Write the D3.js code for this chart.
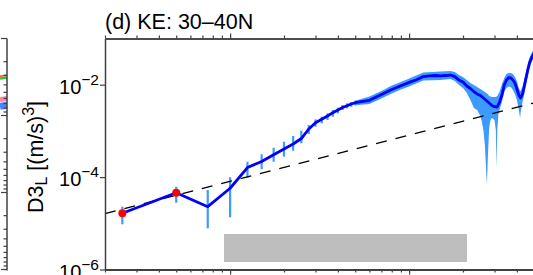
<!DOCTYPE html>
<html><head><meta charset="utf-8">
<script src="https://cdn.jsdelivr.net/npm/d3@7"></script>
<style>
body{margin:0;background:#fff}
svg{display:block}
text{font-family:"Liberation Sans",Arial,Helvetica,sans-serif;fill:#000}
</style>
</head><body>
<svg id="c" width="533" height="275"></svg>
<script>
// ---------- data ----------
const titleText = "(d) KE: 30\u201340N";
// separation distance r (km), short range (individual error bars)
const rNear = [2.5,5,7.5,10,12.5,15,17.5,20,22.5,25,27.5,30,32.5,35,37.5,40,42.5,45,47.5,50];
const d3Near = [1.65e-5,4.59e-5,2.29e-5,5.73e-5,1.61e-4,2.18e-4,3.05e-4,4.06e-4,5.20e-4,6.84e-4,
                1.10e-3,1.50e-3,1.78e-3,2.10e-3,2.48e-3,2.83e-3,3.21e-3,3.51e-3,3.82e-3,4.07e-3];
const errHiNear = [2.29e-5,6.19e-5,5.26e-5,9.9e-5,2.15e-4,3.12e-4,4.33e-4,5.83e-4,7.76e-4,1.01e-3,
                   1.34e-3,1.78e-3,2.03e-3,2.40e-3,2.83e-3,3.18e-3,3.64e-3,3.95e-3,4.23e-3,4.51e-3];
const errLoNear = [9.5e-6,2.79e-5,7.8e-6,1.35e-5,9.7e-5,1.48e-4,2.15e-4,2.77e-4,3.72e-4,5.40e-4,
                   8.57e-4,1.23e-3,1.46e-3,1.72e-3,2.03e-3,2.40e-3,2.83e-3,3.08e-3,3.34e-3,3.58e-3];
// points marked in red
const rRed = [2.5,5];
// long range line
const rFar = [60,70,80,90,100,110,120,130,140,150,160,170,180,190,200,210,220,230,240,250,260,270,280,
              290,300,310,320,330,340,350,360,370,380,390,400,410,420,430,440,450,460,470,480,490,500];
const d3Far = [4.59e-3,6.14e-3,7.87e-3,9.51e-3,1.12e-2,1.28e-2,1.50e-2,1.56e-2,1.58e-2,1.56e-2,1.58e-2,1.62e-2,
               1.50e-2,1.26e-2,1.14e-2,9.38e-3,8.27e-3,7.12e-3,6.29e-3,5.84e-3,5.15e-3,4.55e-3,4.02e-3,
               3.55e-3,3.34e-3,3.29e-3,4.22e-3,5.99e-3,9.86e-3,1.26e-2,1.43e-2,1.40e-2,1.26e-2,1.09e-2,
               8.07e-3,5.99e-3,5.15e-3,6.29e-3,9.38e-3,1.40e-2,2.08e-2,2.90e-2,3.60e-2,4.18e-2,4.85e-2];
// long range error envelope
const rBand = [50,60,70,80,90,100,120,150,170,180,190,200,210,220,230,240,250,255,260,265,270,272,275,280,
               285,290,300,305,308,311,315,320,330,340,350,360,370,380,390,400,410,417,420,430,440,450,460,470,480,490,500];
const bandHi = [4.51e-3,5.55e-3,7.31e-3,9.61e-3,1.14e-2,1.36e-2,1.84e-2,1.93e-2,1.98e-2,1.89e-2,1.62e-2,1.47e-2,
                1.26e-2,1.09e-2,9.86e-3,8.91e-3,8.07e-3,7.67e-3,7.31e-3,6.95e-3,6.61e-3,6.46e-3,6.29e-3,5.69e-3,
                5.55e-3,5.42e-3,5.42e-3,5.42e-3,5.55e-3,5.69e-3,6.29e-3,6.95e-3,1.04e-2,1.40e-2,1.71e-2,1.79e-2,
                1.79e-2,1.71e-2,1.47e-2,1.20e-2,8.49e-3,7.31e-3,7.31e-3,8.91e-3,1.33e-2,1.89e-2,2.81e-2,3.79e-2,
                4.62e-2,5.36e-2,6.22e-2];
const bandLo = [3.58e-3,3.82e-3,5.03e-3,6.46e-3,7.87e-3,9.14e-3,1.23e-2,1.26e-2,1.33e-2,1.20e-2,9.86e-3,8.49e-3,
                6.61e-3,4.67e-3,3.13e-3,2.83e-3,2.10e-3,1.56e-3,1.05e-3,4.96e-4,1.11e-4,6.74e-5,2.34e-4,1.16e-3,
                1.72e-3,1.90e-3,1.72e-3,1.05e-3,1.57e-4,1.05e-3,2.21e-3,2.83e-3,4.22e-3,6.95e-3,8.49e-3,9.14e-3,
                8.91e-3,7.67e-3,6.29e-3,4.67e-3,2.83e-3,1.90e-3,2.56e-3,4.22e-3,6.29e-3,9.86e-3,1.54e-2,2.19e-2,
                2.95e-2,3.43e-2,3.98e-2];
// reference slope line  D3 = c * r
const refR = [2, 1000];
const refD3 = [1.62e-5, 8.1e-3];
// axis ticks
const yTickVals = [1e-2, 1e-4, 1e-6];
const yTickExp = ["\u22122", "\u22124", "\u22126"];
const xMajor = [10, 100, 1000];
const xMinor = [2,3,4,5,6,7,8,9,20,30,40,50,60,70,80,90,200,300,400,500,600,700,800,900];
// neighbouring panel (c) remnants at right edge
const prevSeries = [
  {color:"#00c800", v:0.33, w:2.5},
  {color:"#ff2020", v:0.31, w:1.5},
  {color:"#ff7090", v:0.62, w:5},
  {color:"#3070ff", v:0.76, w:7}
];

// ---------- layout ----------
const svg = d3.select("#c");
const L = 105, T = 38.5, B = 269.5;
const x = d3.scaleLog().domain([2, 1000]).range([L, L + 179 * Math.log10(500)]);
const y = d3.scaleLog().domain([1e-6, 1e-1]).range([B, T]);
const axisColor = "#404040";

// previous panel remnant
const yPrev = d3.scaleLog().domain([0.1, 100]).range([T, B]);
const prevX = 7;
const gp = svg.append("g");
prevSeries.forEach(s => {
  gp.append("line").attr("x1", 0).attr("x2", prevX).attr("y1", yPrev(s.v)).attr("y2", yPrev(s.v) - 1)
    .attr("stroke", s.color).attr("stroke-width", s.w).attr("opacity", 0.85);
});
gp.append("line").attr("x1", prevX).attr("x2", prevX).attr("y1", T).attr("y2", B + 1)
  .attr("stroke", axisColor).attr("stroke-width", 1.5);
yPrev.ticks().forEach(t => {
  const major = Math.abs(Math.log10(t) - Math.round(Math.log10(t))) < 1e-6;
  gp.append("line").attr("x1", major ? 1 : 3.5).attr("x2", prevX).attr("y1", yPrev(t)).attr("y2", yPrev(t))
    .attr("stroke", axisColor).attr("stroke-width", 1.2);
});

// gray box
svg.append("rect").attr("x", 224).attr("y", 234).attr("width", 243).attr("height", 28).attr("fill", "#bebebe");

// error band (long range)
const bandData = rBand.map((r, i) => ({r, lo: bandLo[i], hi: bandHi[i]}));
svg.append("path").datum(bandData)
  .attr("d", d3.area().x(d => x(d.r)).y0(d => y(d.lo)).y1(d => y(d.hi)))
  .attr("fill", "#3d9bff");

// error bars (short range)
rNear.forEach((r, i) => {
  svg.append("line").attr("x1", x(r)).attr("x2", x(r)).attr("y1", y(errLoNear[i])).attr("y2", y(errHiNear[i]))
    .attr("stroke", "#3d9bff").attr("stroke-width", 2.2);
});

// reference dashed line
svg.append("path").datum(refR.map((r, i) => [r, refD3[i]]))
  .attr("d", d3.line().x(d => x(d[0])).y(d => y(d[1])))
  .attr("stroke", "#000").attr("stroke-width", 1.4).attr("fill", "none").attr("stroke-dasharray", "11,9");

// main line
const lineData = rNear.map((r, i) => [r, d3Near[i]]).concat(rFar.map((r, i) => [r, d3Far[i]]));
svg.append("path").datum(lineData)
  .attr("d", d3.line().x(d => x(d[0])).y(d => y(d[1])))
  .attr("stroke", "#0000ff").attr("stroke-width", 2.8).attr("fill", "none").attr("stroke-linejoin", "round");

// red points
rRed.forEach(r => {
  const i = rNear.indexOf(r);
  svg.append("circle").attr("cx", x(r)).attr("cy", y(d3Near[i])).attr("r", 4).attr("fill", "#ff0000");
});

// axes
function styleAxis(g){ g.selectAll("path,line").attr("stroke", axisColor); g.select(".domain").attr("stroke-width", 1.5); g.selectAll(".tick line").attr("stroke-width", 1.2); g.selectAll("text").remove(); }
svg.append("g").attr("transform", `translate(0,${T})`)
  .call(d3.axisTop(x).tickValues(xMajor).tickSizeInner(5).tickSizeOuter(0)).call(styleAxis);
svg.append("g").attr("transform", `translate(0,${T})`)
  .call(d3.axisTop(x).tickValues(xMinor).tickSizeInner(3).tickSizeOuter(0)).call(styleAxis);
svg.append("g").attr("transform", `translate(0,${B})`)
  .call(d3.axisBottom(x).tickValues(xMajor).tickSizeInner(5).tickSizeOuter(0)).call(styleAxis)
  .select(".domain").attr("stroke-width", 2.2);
svg.append("g").attr("transform", `translate(0,${B})`)
  .call(d3.axisBottom(x).tickValues(xMinor).tickSizeInner(3).tickSizeOuter(0)).call(styleAxis)
  .select(".domain").attr("stroke-width", 2.2);
svg.append("g").attr("transform", `translate(${L},0)`)
  .call(d3.axisLeft(y).tickValues(yTickVals).tickSizeInner(5).tickSizeOuter(0)).call(styleAxis);

// y tick labels
yTickVals.forEach((v, i) => {
  const t = svg.append("text").attr("x", 99).attr("y", y(v) + 9).attr("text-anchor", "end").attr("font-size", 20);
  t.append("tspan").text("10");
  t.append("tspan").attr("dy", -9).attr("font-size", 15.5).text(yTickExp[i]);
});

// y axis title
const yl = svg.append("text").attr("transform", "translate(43,157) rotate(-90)").attr("text-anchor", "middle").attr("font-size", 21.5);
yl.append("tspan").text("D3");
yl.append("tspan").attr("dy", 4).attr("font-size", 16).text("L");
yl.append("tspan").attr("dy", -4).text(" [(m/s)");
yl.append("tspan").attr("dy", -9).attr("font-size", 16).text("3");
yl.append("tspan").attr("dy", 9).text("]");

// title
svg.append("text").attr("x", 105).attr("y", 28.5).attr("font-size", 21.5).text(titleText);
</script>
</body></html>
